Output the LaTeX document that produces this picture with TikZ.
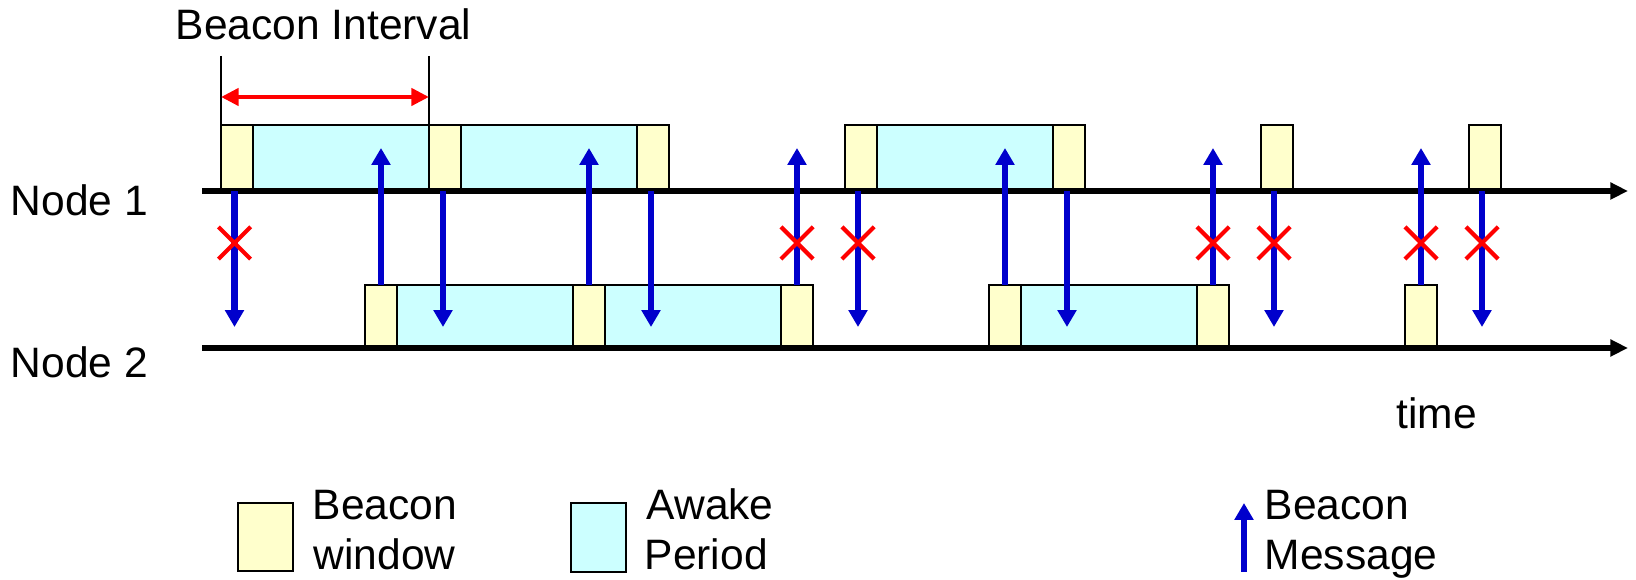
\documentclass[tikz,border=0pt]{standalone}
\usepackage{fontspec}
\setmainfont{Liberation Sans}
\usetikzlibrary{arrows.meta,shapes.misc}
\definecolor{bwin}{HTML}{FFFFCC}
\definecolor{awake}{HTML}{CCFFFF}
\definecolor{msgblue}{HTML}{0000CC}
\begin{document}
\begin{tikzpicture}[x=0.01cm,y=-0.01cm,
	lbl/.style={anchor=base west,inner sep=0pt,font=\fontsize{12.1}{14.5}\selectfont},
	bwbox/.style={draw=black,line width=0.55pt,fill=bwin},
	awbox/.style={draw=black,line width=0.55pt,fill=awake},
	timeline/.style={line width=1.5pt,-{Triangle[length=5pt,width=4.6pt]}},
	msg/.style={msgblue,line width=1.8pt,-{Triangle[length=4.8pt,width=5.2pt]}},
	lost/.style={cross out,draw=red,line width=1.2pt,minimum width=0.28cm,minimum height=0.28cm,inner sep=0pt},
	tick/.style={line width=0.4pt}]
			\useasboundingbox (0,0) rectangle (1636,580);
			\node[lbl] (title) at (175,40) {Beacon Interval};
			\node[lbl] (node1) at (10,216) {Node 1};
			\node[lbl] (node2) at (10,378) {Node 2};
			\node[lbl] (time) at (1396,429) {time};
			\coordinate (bi1) at (221,56);
			\coordinate (bi2) at (429,56);
			\coordinate (bi1b) at (221,125);
			\coordinate (bi2b) at (429,125);
			\draw[tick] (bi1) -- (bi1b);
			\draw[tick] (bi2) -- (bi2b);
			\draw[red,line width=1.3pt,{Triangle[length=5pt,width=4.8pt]}-{Triangle[length=5pt,width=4.8pt]}] (221,97) -- (429,97);
			\filldraw[bwbox] (221,125) rectangle (253,191);
			\filldraw[awbox] (253,125) rectangle (429,191);
			\filldraw[bwbox] (429,125) rectangle (461,191);
			\filldraw[awbox] (461,125) rectangle (637,191);
			\filldraw[bwbox] (637,125) rectangle (669,191);
			\filldraw[bwbox] (845,125) rectangle (877,191);
			\filldraw[awbox] (877,125) rectangle (1053,191);
			\filldraw[bwbox] (1053,125) rectangle (1085,191);
			\filldraw[bwbox] (1261,125) rectangle (1293,191);
			\filldraw[bwbox] (1469,125) rectangle (1501,191);
			\filldraw[bwbox] (365,285) rectangle (397,348);
			\filldraw[awbox] (397,285) rectangle (573,348);
			\filldraw[bwbox] (573,285) rectangle (605,348);
			\filldraw[awbox] (605,285) rectangle (781,348);
			\filldraw[bwbox] (781,285) rectangle (813,348);
			\filldraw[bwbox] (989,285) rectangle (1021,348);
			\filldraw[awbox] (1021,285) rectangle (1197,348);
			\filldraw[bwbox] (1197,285) rectangle (1229,348);
			\filldraw[bwbox] (1405,285) rectangle (1437,348);
			\coordinate (t1s) at (202,191);
			\coordinate (t1e) at (1628,191);
			\coordinate (t2s) at (202,348);
			\coordinate (t2e) at (1628,348);
			\draw[timeline] (t1s) -- (t1e);
			\draw[timeline] (t2s) -- (t2e);
			\draw[msg] (234.5,191) -- (234.5,327);
			\draw[msg] (443,191) -- (443,327);
			\draw[msg] (651,191) -- (651,327);
			\draw[msg] (858,191) -- (858,327);
			\draw[msg] (1067,191) -- (1067,327);
			\draw[msg] (1274,191) -- (1274,327);
			\draw[msg] (1482,191) -- (1482,327);
			\draw[msg] (381,285) -- (381,148);
			\draw[msg] (589,285) -- (589,148);
			\draw[msg] (797,285) -- (797,148);
			\draw[msg] (1005,285) -- (1005,148);
			\draw[msg] (1213,285) -- (1213,148);
			\draw[msg] (1421,285) -- (1421,148);
			\node[lost] (x1) at (234.5,243) {};
			\node[lost] (x2) at (797,243) {};
			\node[lost] (x3) at (858,243) {};
			\node[lost] (x4) at (1213,243) {};
			\node[lost] (x5) at (1274,243) {};
			\node[lost] (x6) at (1421,243) {};
			\node[lost] (x7) at (1482,243) {};
			\filldraw[bwbox] (238,503) rectangle (293,571);
			\node[lbl] (bw1) at (312,520) {Beacon};
			\node[lbl] (bw2) at (313,570) {window};
			\filldraw[awbox] (571,503) rectangle (626,572);
			\node[lbl] (aw1) at (646,520) {Awake};
			\node[lbl] (aw2) at (644,570) {Period};
			\draw[msg] (1244,572) -- (1244,503);
			\node[lbl] (bm1) at (1264,520) {Beacon};
			\node[lbl] (bm2) at (1264,570) {Message};
		\end{tikzpicture}
\end{document}
